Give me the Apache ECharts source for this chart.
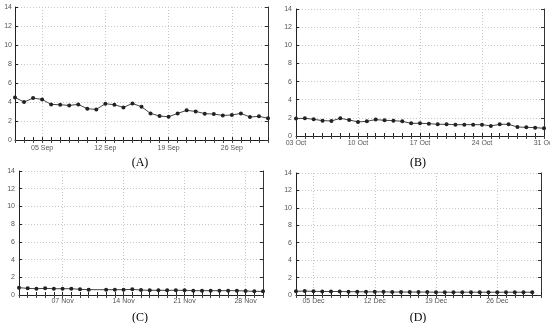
<!DOCTYPE html>
<html><head><meta charset="utf-8">
<script src="https://cdn.jsdelivr.net/npm/echarts@6/dist/echarts.min.js"></script>
<style>html,body{margin:0;padding:0;background:#fff;overflow:hidden}#c{width:575px;height:323px}</style>
</head><body><div id="c"></div>
<script>
const datesA = ['02 Sep','03 Sep','04 Sep','05 Sep','06 Sep','07 Sep','08 Sep','09 Sep','10 Sep','11 Sep','12 Sep','13 Sep','14 Sep','15 Sep','16 Sep','17 Sep','18 Sep','19 Sep','20 Sep','21 Sep','22 Sep','23 Sep','24 Sep','25 Sep','26 Sep','27 Sep','28 Sep','29 Sep','30 Sep'];
const valuesA = [4.48,3.99,4.41,4.27,3.75,3.71,3.64,3.75,3.29,3.22,3.82,3.71,3.43,3.85,3.50,2.80,2.52,2.45,2.80,3.12,3.01,2.77,2.73,2.59,2.63,2.80,2.42,2.49,2.28];
const tickLabelsA = ['05 Sep','12 Sep','19 Sep','26 Sep'];

const datesB = ['03 Oct','04 Oct','05 Oct','06 Oct','07 Oct','08 Oct','09 Oct','10 Oct','11 Oct','12 Oct','13 Oct','14 Oct','15 Oct','16 Oct','17 Oct','18 Oct','19 Oct','20 Oct','21 Oct','22 Oct','23 Oct','24 Oct','25 Oct','26 Oct','27 Oct','28 Oct','29 Oct','30 Oct','31 Oct'];
const valuesB = [1.92,1.95,1.84,1.69,1.66,1.95,1.77,1.55,1.62,1.81,1.73,1.69,1.62,1.40,1.40,1.36,1.29,1.29,1.25,1.25,1.25,1.25,1.11,1.29,1.29,0.99,0.96,0.92,0.85];
const tickLabelsB = ['03 Oct','10 Oct','17 Oct','24 Oct','31 Oct'];

const datesC = ['02 Nov','03 Nov','04 Nov','05 Nov','06 Nov','07 Nov','08 Nov','09 Nov','10 Nov','11 Nov','12 Nov','13 Nov','14 Nov','15 Nov','16 Nov','17 Nov','18 Nov','19 Nov','20 Nov','21 Nov','22 Nov','23 Nov','24 Nov','25 Nov','26 Nov','27 Nov','28 Nov','29 Nov','30 Nov'];
const valuesC = [0.83,0.75,0.71,0.75,0.71,0.71,0.71,0.64,0.60,null,0.60,0.60,0.60,0.64,0.56,0.53,0.53,0.53,0.53,0.53,0.49,0.49,0.49,0.49,0.49,0.49,0.45,0.41,0.41];
const tickLabelsC = ['07 Nov','14 Nov','21 Nov','28 Nov'];

const datesD = ['03 Dec','04 Dec','05 Dec','06 Dec','07 Dec','08 Dec','09 Dec','10 Dec','11 Dec','12 Dec','13 Dec','14 Dec','15 Dec','16 Dec','17 Dec','18 Dec','19 Dec','20 Dec','21 Dec','22 Dec','23 Dec','24 Dec','25 Dec','26 Dec','27 Dec','28 Dec','29 Dec','30 Dec','31 Dec'];
const valuesD = [0.42,0.45,0.42,0.40,0.40,0.40,0.38,0.38,0.36,0.36,0.36,0.34,0.34,0.34,0.34,0.34,0.32,0.32,0.32,0.32,0.32,0.32,0.32,0.32,0.32,0.32,0.32,0.32];
const tickLabelsD = ['05 Dec','12 Dec','19 Dec','26 Dec'];

const yTicks = [0,2,4,6,8,10,12,14];
const captions = ['(A)','(B)','(C)','(D)'];

const panels = [
  {dates: datesA, values: valuesA, labels: tickLabelsA, grid: {left: 15, top: 7, width: 253, height: 133}, xMargin: 5, yMargin: 3, cap: [135, 152]},
  {dates: datesB, values: valuesB, labels: tickLabelsB, grid: {left: 296, top: 9, width: 248, height: 127}, xMargin: 4, yMargin: 4, cap: [413, 152]},
  {dates: datesC, values: valuesC, labels: tickLabelsC, grid: {left: 19, top: 171, width: 244, height: 124}, xMargin: 3, yMargin: 4, cap: [135, 307]},
  {dates: datesD, values: valuesD, labels: tickLabelsD, grid: {left: 296, top: 173, width: 245, height: 122}, xMargin: 3, yMargin: 4, cap: [413, 307]}
];

const font = 'Liberation Sans';
const grids = [], xAxes = [], yAxes = [], series = [], titles = [];
panels.forEach((p, i) => {
  grids.push(Object.assign({containLabel: false}, p.grid));
  const isLab = (idx, val) => p.labels.indexOf(val) >= 0;
  xAxes.push({
    type: 'category', gridIndex: i, data: p.dates, boundaryGap: false, position: 'bottom',
    axisLine: {show: true, lineStyle: {color: '#222', width: 1}},
    axisTick: {show: true, inside: true, interval: 0, length: 3, lineStyle: {color: '#222'}},
    axisLabel: {interval: isLab, fontSize: 7, color: '#555', fontFamily: font, margin: p.xMargin},
    splitLine: {show: true, interval: isLab, lineStyle: {color: '#c8c8c8', type: [1, 2], width: 1}}
  });
  xAxes.push({
    type: 'category', gridIndex: i, data: p.dates, boundaryGap: false, position: 'top',
    axisLine: {show: false},
    axisTick: {show: true, inside: true, interval: 0, length: 3, lineStyle: {color: '#444'}},
    axisLabel: {show: false}, splitLine: {show: false}
  });
  yAxes.push({
    type: 'value', gridIndex: i, min: 0, max: 14, interval: 2, position: 'left',
    axisLine: {show: true, lineStyle: {color: '#222', width: 1}},
    axisTick: {show: true, inside: true, length: 3, lineStyle: {color: '#222'}},
    axisLabel: {fontSize: 7, color: '#555', fontFamily: font, margin: p.yMargin,
      formatter: v => yTicks.indexOf(v) >= 0 ? String(v) : ''},
    splitLine: {show: true, lineStyle: {color: '#c8c8c8', type: [1, 2], width: 1}}
  });
  yAxes.push({
    type: 'value', gridIndex: i, min: 0, max: 14, interval: 2, position: 'right',
    axisLine: {show: true, onZero: false, lineStyle: {color: '#333', width: 1}},
    axisTick: {show: true, inside: true, length: 3, lineStyle: {color: '#333'}},
    axisLabel: {show: false}, splitLine: {show: false}
  });
  series.push({
    type: 'line', xAxisIndex: 2 * i, yAxisIndex: 2 * i, data: p.values, connectNulls: true,
    symbol: 'circle', symbolSize: 4, showSymbol: true,
    lineStyle: {color: '#444', width: 1}, itemStyle: {color: '#222'},
    animation: false
  });
  titles.push({
    text: captions[i], left: p.cap[0], top: p.cap[1], textAlign: 'center',
    textStyle: {fontFamily: 'Liberation Serif', fontSize: 12, fontWeight: 'normal', color: '#000'}
  });
});

const chart = echarts.init(document.getElementById('c'), null, {renderer: 'canvas'});
chart.setOption({
  animation: false,
  title: titles,
  grid: grids, xAxis: xAxes, yAxis: yAxes, series: series
});
</script></body></html>
